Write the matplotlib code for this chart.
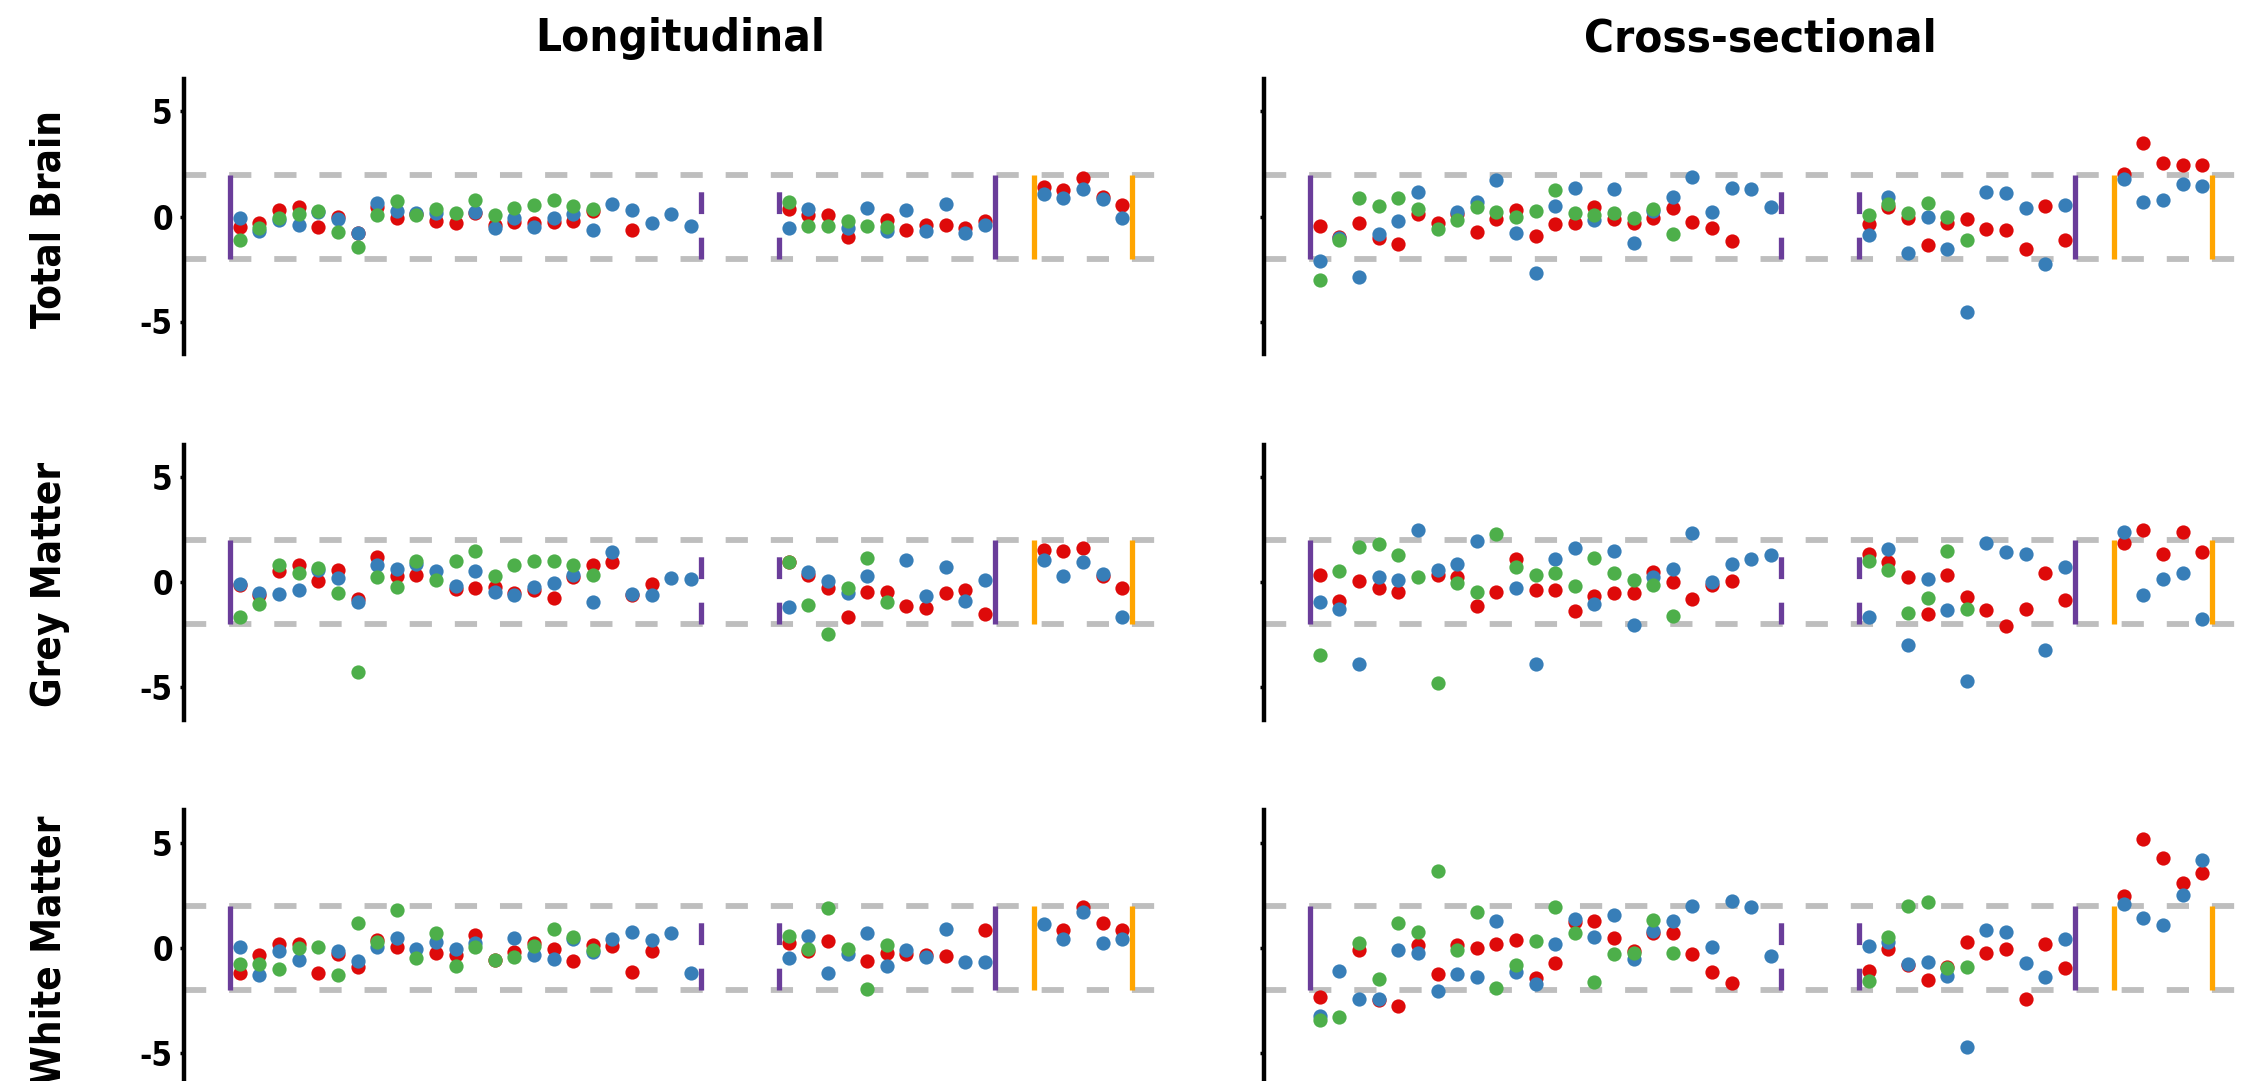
import numpy as np
import matplotlib
matplotlib.use("Agg")
import matplotlib.pyplot as plt
from matplotlib import font_manager as fm

nan = np.nan

# x positions of the three blocks of measures
pos_block1 = list(range(1, 25))
pos_block2 = list(range(29, 40))
pos_block3 = list(range(42, 47))
positions = pos_block1 + pos_block2 + pos_block3

col_titles = ["Longitudinal", "Cross-sectional"]
row_titles = ["Total Brain", "Grey Matter", "White Matter"]

# z-scores, one list per panel and colour (block1 + block2 + block3)
tb_long_red = [-0.48, -0.29, 0.31, 0.43, -0.51, 0.0, -0.78, 0.47, -0.09, 0.12, -0.21, -0.32, 0.15, -0.42, -0.28, -0.29, -0.28, -0.2, 0.25, nan, -0.66, nan, nan, nan,
               0.36, 0.07, 0.07, -0.99, nan, -0.15, -0.62, -0.42, -0.4, -0.53, -0.2,
               1.41, 1.24, 1.84, 0.91, 0.55]
tb_long_blue = [-0.07, -0.67, -0.17, -0.40, 0.2, -0.1, -0.80, 0.62, 0.28, 0.18, 0.18, nan, 0.2, -0.56, -0.06, -0.51, -0.09, 0.13, -0.66, 0.59, 0.31, -0.32, 0.1, -0.45,
                -0.56, 0.36, nan, -0.53, 0.4, -0.69, 0.31, -0.67, 0.59, -0.8, -0.42,
                1.07, 0.88, 1.32, 0.81, -0.06]
tb_long_green = [-1.12, -0.56, -0.06, 0.12, 0.28, -0.75, -1.45, 0.07, 0.74, 0.09, 0.35, 0.18, 0.78, 0.06, 0.4, 0.53, 0.8, 0.51, 0.34, nan, nan, nan, nan, nan,
                 0.67, -0.45, -0.45, -0.23, -0.47, -0.48, nan, nan, nan, nan, nan,
                 nan, nan, nan, nan, nan]

tb_cross_red = [-0.46, -0.97, -0.29, -1.03, -1.29, 0.11, -0.32, 0.14, -0.73, -0.11, 0.32, -0.95, -0.37, -0.3, 0.44, -0.11, -0.29, -0.05, 0.4, -0.24, -0.54, -1.17, nan, nan,
                -0.35, 0.43, -0.05, -1.37, -0.29, -0.13, -0.59, -0.62, -1.57, 0.51, -1.1,
                2.03, 3.49, 2.57, 2.44, 2.44]
tb_cross_blue = [-2.14, -1.0, -2.89, -0.84, -0.22, 1.17, nan, 0.2, 0.7, 1.75, -0.78, -2.7, 0.52, 1.35, -0.17, 1.29, -1.24, 0.24, 0.94, 1.87, 0.21, 1.35, 1.3, 0.43,
                 -0.86, 0.95, -1.76, 0.0, -1.56, -4.56, 1.19, 1.1, 0.4, -2.25, 0.56,
                 1.78, 0.68, 0.79, 1.57, 1.43]
tb_cross_green = [-3.02, -1.11, 0.89, 0.49, 0.89, 0.37, -0.59, -0.17, 0.43, 0.21, -0.02, 0.27, 1.25, 0.17, 0.05, 0.16, -0.06, 0.35, -0.84, nan, nan, nan, nan, nan,
                  0.05, 0.6, 0.16, 0.65, -0.02, -1.11, nan, nan, nan, nan, nan,
                  nan, nan, nan, nan, nan]

gm_long_red = [-0.12, -0.61, 0.57, 0.84, 0.06, 0.61, -0.8, 1.2, 0.31, 0.36, nan, -0.33, -0.25, -0.23, -0.49, -0.37, -0.73, 0.25, 0.84, 0.98, -0.58, -0.07, nan, nan,
               0.97, 0.37, -0.27, -1.63, -0.44, -0.44, -1.11, -1.22, -0.52, -0.35, -1.49,
               1.56, 1.49, 1.63, 0.32, -0.24]
gm_long_blue = [-0.09, -0.49, -0.53, -0.36, 0.61, 0.22, -0.92, 0.85, 0.65, 0.87, 0.55, -0.18, 0.57, -0.47, -0.58, -0.23, -0.04, 0.34, -0.95, 1.47, -0.53, -0.58, 0.22, 0.17,
                -1.16, 0.52, 0.05, -0.51, 0.33, nan, 1.05, -0.65, 0.75, -0.9, 0.14,
                1.08, 0.29, 0.98, 0.41, -1.63]
gm_long_green = [-1.62, -1.01, 0.84, 0.47, 0.71, -0.52, -4.26, 0.26, -0.23, 1.01, 0.14, 1.01, 1.49, 0.33, 0.82, 1.0, 1.0, 0.85, 0.36, nan, nan, nan, nan, nan,
                 0.97, -1.06, -2.46, -0.24, 1.19, -0.94, nan, nan, nan, nan, nan,
                 nan, nan, nan, nan, nan]

gm_cross_red = [0.38, -0.9, 0.05, -0.27, -0.44, nan, 0.38, 0.25, -1.11, -0.44, 1.11, -0.37, -0.38, -1.38, -0.65, -0.51, -0.49, 0.49, 0.03, -0.78, -0.11, 0.05, nan, nan,
                1.35, 0.96, 0.26, -1.49, 0.37, -0.71, -1.29, -2.06, -1.26, 0.44, -0.84,
                1.9, 2.51, 1.38, 2.4, 1.47]
gm_cross_blue = [-0.95, -1.27, -3.86, 0.25, 0.11, 2.51, 0.6, 0.9, 1.98, nan, -0.27, -3.86, 1.14, 1.62, -1.03, 1.52, -2.03, 0.24, 0.65, 2.38, 0.02, 0.89, 1.14, 1.29,
                 -1.62, 1.6, -2.97, 0.18, -1.31, -4.71, 1.89, 1.44, 1.38, -3.23, 0.74,
                 2.4, -0.6, 0.17, 0.44, -1.72]
gm_cross_green = [-3.44, 0.56, 1.67, 1.84, 1.33, 0.24, -4.79, -0.03, -0.44, 2.32, 0.73, 0.38, 0.46, -0.19, 1.19, 0.46, 0.11, -0.13, -1.6, nan, nan, nan, nan, nan,
                  1.0, 0.58, -1.44, -0.73, 1.49, -1.24, nan, nan, nan, nan, nan,
                  nan, nan, nan, nan, nan]

wm_long_red = [-1.17, -0.33, 0.21, 0.17, -1.19, -0.3, -0.89, 0.38, 0.05, nan, -0.22, -0.32, 0.6, -0.55, -0.21, 0.25, -0.05, -0.63, 0.16, 0.11, -1.16, -0.13, nan, nan,
               0.24, -0.13, 0.33, nan, -0.6, -0.25, -0.29, -0.33, -0.37, nan, 0.84,
               nan, 0.86, 1.97, 1.21, 0.86]
wm_long_blue = [0.03, -1.27, -0.16, -0.56, nan, -0.14, -0.6, 0.03, 0.48, -0.03, 0.3, -0.06, 0.22, nan, 0.46, -0.33, -0.54, 0.43, -0.17, 0.43, 0.78, 0.38, 0.7, -1.19,
                -0.46, 0.57, -1.19, -0.3, 0.73, -0.86, -0.1, -0.41, 0.9, -0.65, -0.65,
                1.13, 0.44, 1.73, 0.24, 0.41]
wm_long_green = [-0.76, -0.75, -1.0, -0.02, 0.05, -1.3, 1.21, 0.3, 1.81, -0.49, 0.73, -0.87, 0.03, -0.57, -0.41, 0.1, 0.92, 0.51, -0.1, nan, nan, nan, nan, nan,
                 0.59, -0.06, 1.89, -0.06, -1.95, 0.16, nan, nan, nan, nan, nan,
                 nan, nan, nan, nan, nan]

wm_cross_red = [-2.32, nan, -0.1, -2.48, -2.76, 0.13, -1.24, 0.13, -0.02, 0.19, 0.38, -1.41, -0.73, 1.22, 1.3, 0.46, -0.15, 0.7, 0.7, -0.27, -1.16, -1.68, nan, nan,
                -1.1, -0.06, -0.8, -1.52, -0.9, 0.3, -0.25, -0.03, -2.43, 0.19, -0.95,
                2.49, 5.17, 4.27, 3.08, 3.59]
wm_cross_blue = [-3.24, -1.1, -2.43, -2.43, -0.1, -0.22, -2.05, -1.22, -1.4, 1.3, -1.13, -1.73, 0.19, 1.38, 0.51, 1.57, -0.54, 0.83, 1.3, 2.0, 0.06, 2.25, 1.97, -0.37,
                 0.11, 0.3, -0.76, -0.65, -1.33, -4.73, 0.86, 0.78, -0.71, -1.37, 0.44,
                 2.11, 1.44, 1.11, 2.52, 4.19]
wm_cross_green = [-3.43, -3.3, 0.22, -1.49, 1.17, 0.75, 3.67, -0.1, 1.7, -1.89, -0.81, 0.35, 1.97, 0.73, -1.6, -0.3, -0.22, 1.33, -0.25, nan, nan, nan, nan, nan,
                  -1.57, 0.54, 2.0, 2.17, -0.97, -0.89, nan, nan, nan, nan, nan,
                  nan, nan, nan, nan, nan]

panels = [
    [(tb_long_red, tb_long_blue, tb_long_green), (tb_cross_red, tb_cross_blue, tb_cross_green)],
    [(gm_long_red, gm_long_blue, gm_long_green), (gm_cross_red, gm_cross_blue, gm_cross_green)],
    [(wm_long_red, wm_long_blue, wm_long_green), (wm_cross_red, wm_cross_blue, wm_cross_green)],
]

RED, BLUE, GREEN = "#DE0A0A", "#377EB8", "#4DAF4A"
PURPLE, ORANGE, GREY = "#6A3D9A", "#FFA500", "#BEBEBE"

plt.rcParams["lines.scale_dashes"] = False

# narrow bold face for all text, if available
avail = {f.name for f in fm.fontManager.ttflist}
if "Liberation Sans Narrow" in avail:
    FONT = dict(family="Liberation Sans Narrow", fontweight="bold")
    k = 1.0
else:
    FONT = dict(family="DejaVu Sans", fontstretch="condensed", fontweight="bold")
    k = 0.85

W, H = 2257, 1081
fig = plt.figure(figsize=(W / 100, H / 100), dpi=100)

# layout in pixels
col_left = [184, 1264]
panel_w = 993
row_zero = [216.5, 582.5, 948]
px_per_unit = 21.0
ylim = 6.55
half_h = ylim * px_per_unit

for r in range(3):
    for c in range(2):
        bottom = 1 - (row_zero[r] + half_h) / H
        ax = fig.add_axes([col_left[c] / W, bottom, panel_w / W, 2 * half_h / H])
        ax.set_xlim(-1.85, 48.8)
        ax.set_ylim(-ylim, ylim)

        ax.axhline(2, color=GREY, lw=4.2, ls=(0, (16, 16.5)), zorder=1)
        ax.axhline(-2, color=GREY, lw=4.2, ls=(0, (16, 16.5)), zorder=1)

        # block separators
        ax.plot([0.5, 0.5], [-2, 2], color=PURPLE, lw=3.8, solid_capstyle="butt", zorder=2)
        ax.plot([24.5, 24.5], [-2, 2], color=PURPLE, lw=3.8, ls=(0, (15.7, 17)), dash_capstyle="butt", zorder=2)
        ax.plot([28.5, 28.5], [-2, 2], color=PURPLE, lw=3.8, ls=(0, (15.7, 17)), dash_capstyle="butt", zorder=2)
        ax.plot([39.5, 39.5], [-2, 2], color=PURPLE, lw=3.8, solid_capstyle="butt", zorder=2)
        ax.plot([41.5, 41.5], [-2, 2], color=ORANGE, lw=3.8, solid_capstyle="butt", zorder=2)
        ax.plot([46.5, 46.5], [-2, 2], color=ORANGE, lw=3.8, solid_capstyle="butt", zorder=2)

        red, blue, green = panels[r][c]
        ax.scatter(positions, red, s=105, color=RED, lw=0, zorder=3)
        ax.scatter(positions, blue, s=105, color=BLUE, lw=0, zorder=4)
        ax.scatter(positions, green, s=105, color=GREEN, lw=0, zorder=5)

        for side in ["top", "right", "bottom"]:
            ax.spines[side].set_visible(False)
        ax.spines["left"].set_linewidth(3.2)
        ax.set_xticks([])
        ax.set_yticks([-5, 0, 5])
        ax.tick_params(axis="y", length=3, width=2.5, pad=5)
        if c == 0:
            ax.set_yticklabels(["-5", "0", "5"], fontsize=28 * k, **FONT)
        else:
            ax.set_yticklabels([])

        if c == 0:
            fig.text(50 / W, 1 - (row_zero[r] + 2) / H, row_titles[r], rotation=90, ha="center", va="center",
                     fontsize=34 * k, **FONT)

for c in range(2):
    fig.text((col_left[c] + panel_w / 2) / W, 1 - 39 / H, col_titles[c], ha="center", va="center",
             fontsize=38.5 * k, **FONT)

fig.savefig("out.png", dpi=100)
